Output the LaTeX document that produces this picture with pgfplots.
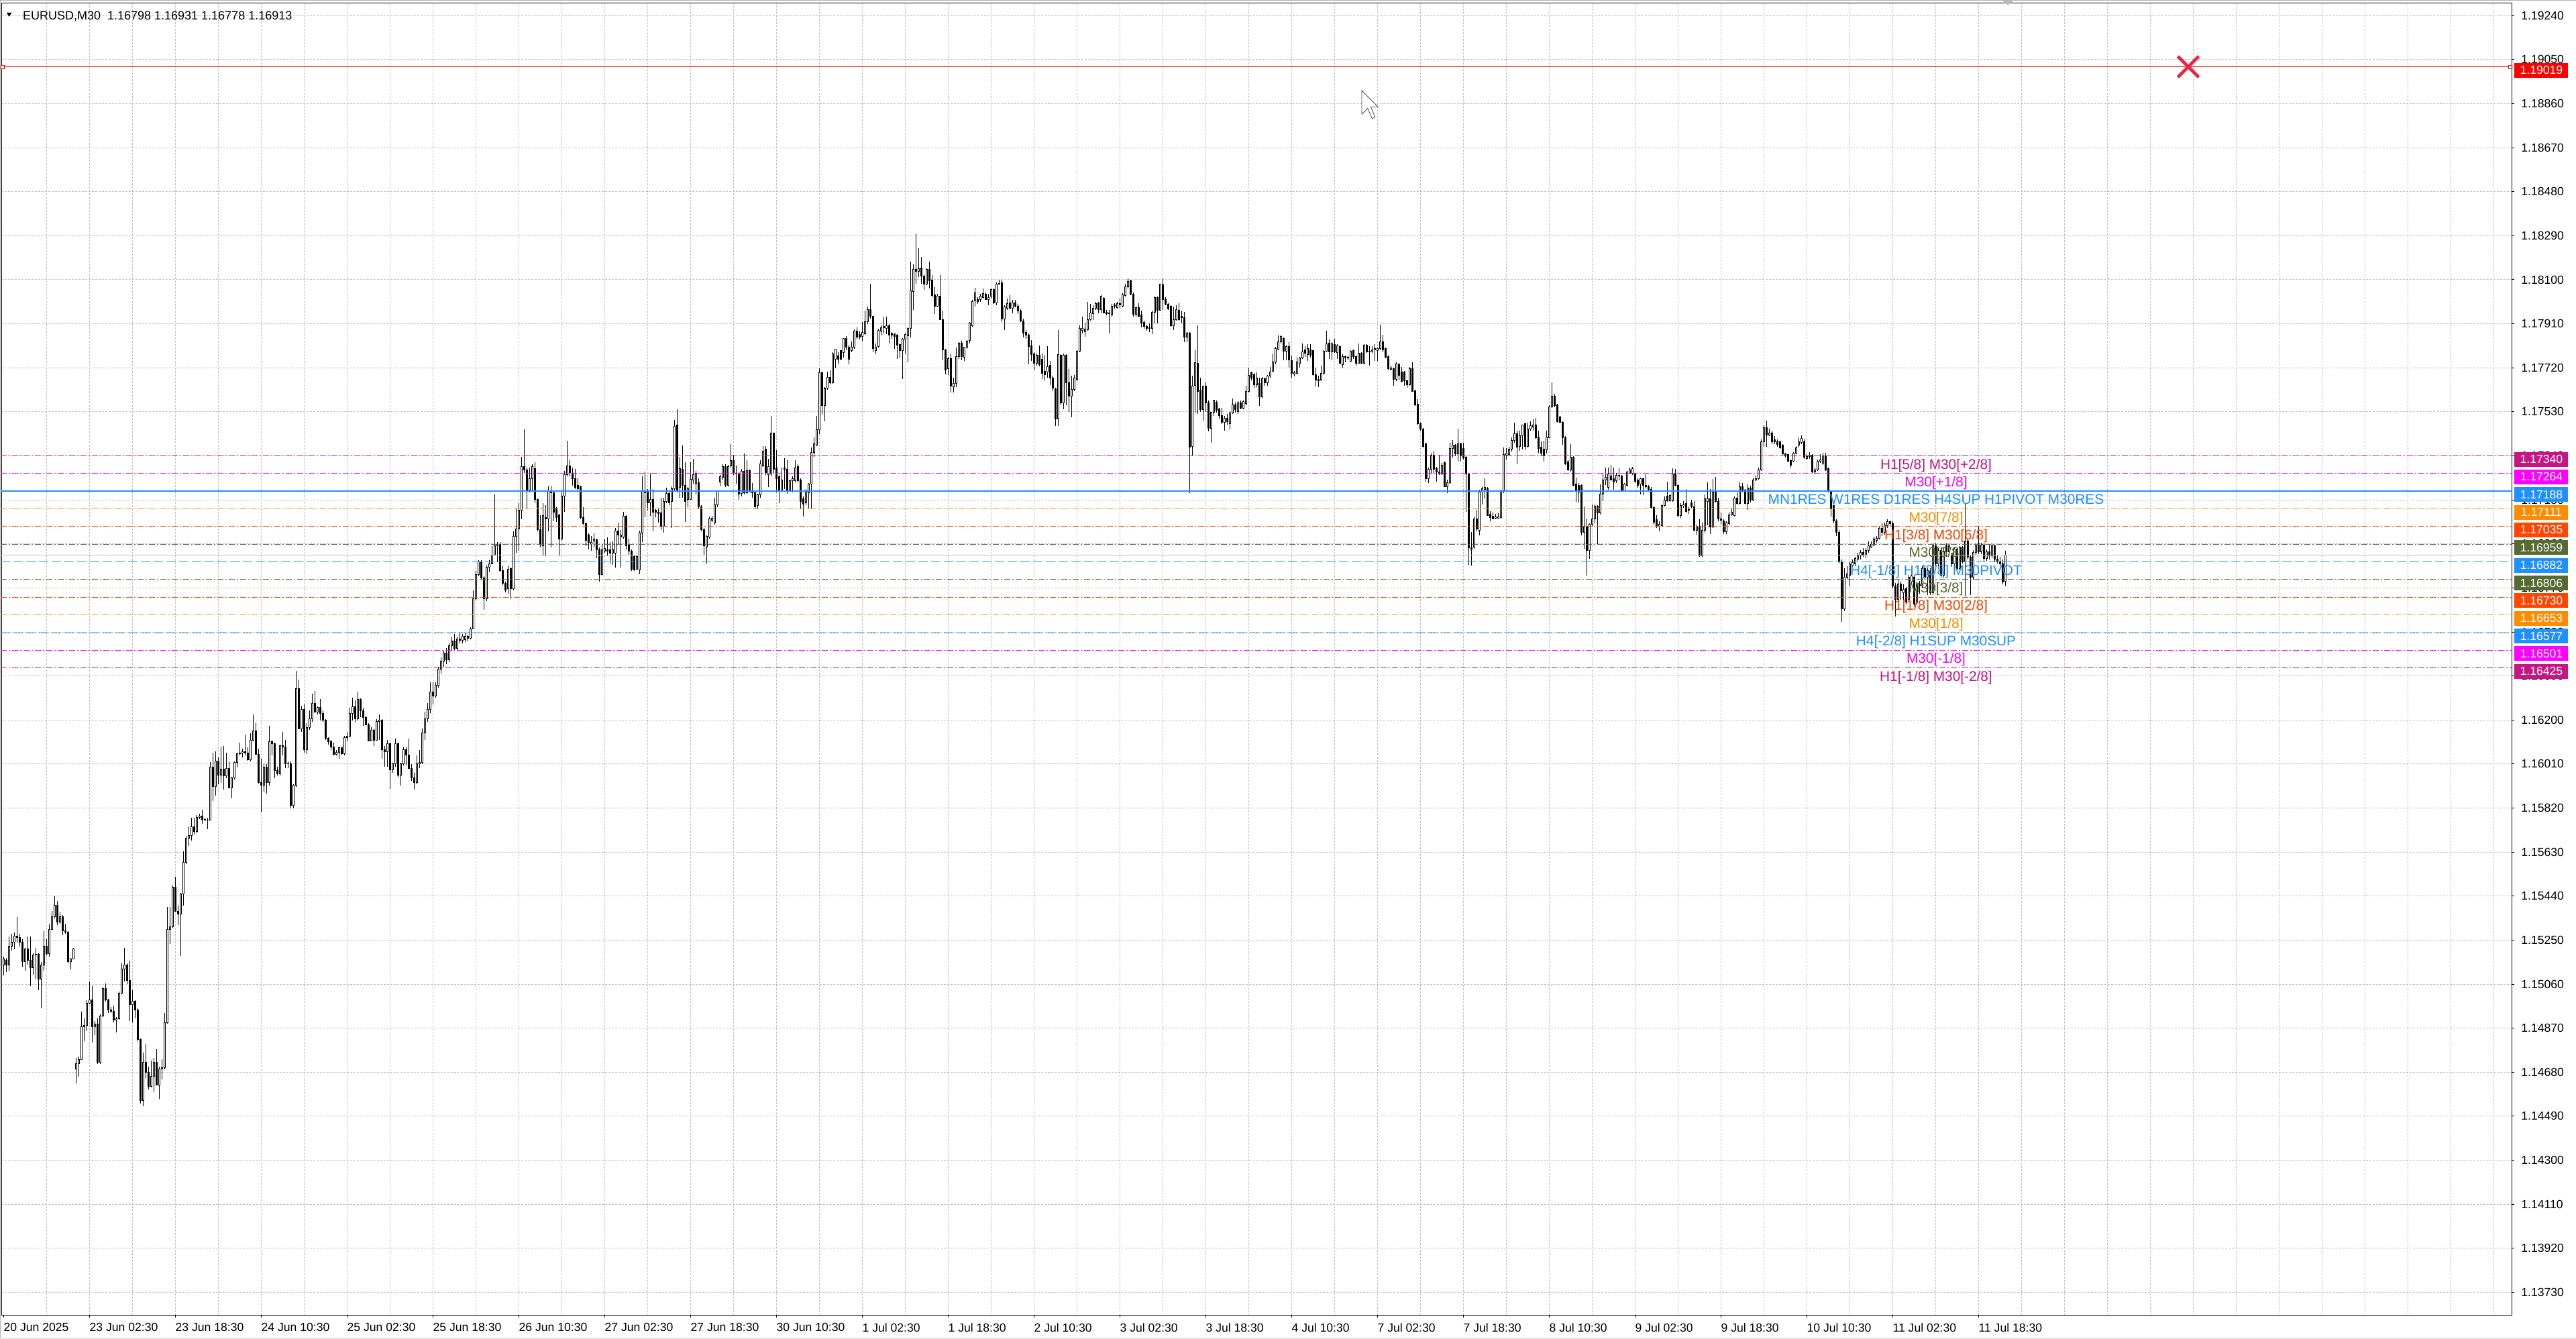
\documentclass[border=0pt]{standalone}
\usepackage{pgfplots}
\pgfplotsset{compat=1.18}
\usepackage{pgfplotstable}
\usepackage{fontspec}
\setmainfont{Liberation Sans}
\definecolor{mvr}{HTML}{C71585}
\definecolor{mag}{HTML}{FF00FF}
\definecolor{dblue}{HTML}{1E90FF}
\definecolor{dorange}{HTML}{FF8C00}
\definecolor{ored}{HTML}{FF4500}
\definecolor{dolive}{HTML}{556B2F}
\definecolor{gridc}{HTML}{C0C0C0}
\definecolor{xred}{RGB}{230,40,70}
\tikzset{
 lbl/.style={anchor=base, inner sep=0pt, font=\fontsize{10.4}{12}\selectfont, yshift=-9.75pt},
 pbox/.style={anchor=west, text=white, inner sep=0pt, minimum width=40pt, minimum height=11pt, font=\fontsize{8.8}{10}\selectfont},
 ddot/.style={line width=0.5pt, dash pattern=on 4.5pt off 1.5pt on 1pt off 1.5pt},
 ldash/.style={line width=0.5pt, dash pattern=on 7pt off 2.5pt}
}
\pgfplotstableread{
o h l c
1.15144 1.15180 1.15097 1.15168
1.15162 1.15174 1.15113 1.15144
1.15144 1.15266 1.15119 1.15223
1.15223 1.15278 1.15205 1.15241
1.15241 1.15284 1.15211 1.15266
1.15266 1.15351 1.15241 1.15260
1.15260 1.15278 1.15223 1.15241
1.15241 1.15253 1.15134 1.15156
1.15156 1.15217 1.15119 1.15211
1.15211 1.15266 1.15144 1.15162
1.15162 1.15266 1.15052 1.15131
1.15131 1.15192 1.15101 1.15186
1.15186 1.15217 1.15083 1.15190
1.15190 1.15192 1.15034 1.15083
1.15083 1.15156 1.14955 1.15144
1.15144 1.15290 1.15119 1.15223
1.15223 1.15253 1.15186 1.15192
1.15192 1.15320 1.15180 1.15296
1.15296 1.15375 1.15296 1.15351
1.15351 1.15439 1.15345 1.15400
1.15400 1.15418 1.15314 1.15327
1.15327 1.15369 1.15320 1.15351
1.15351 1.15357 1.15272 1.15290
1.15290 1.15320 1.15278 1.15284
1.15284 1.15290 1.15150 1.15156
1.15156 1.15174 1.15125 1.15168
1.15168 1.15217 1.15168 1.15211
1.14693 1.14741 1.14632 1.14717
1.14717 1.14747 1.14662 1.14735
1.14735 1.14942 1.14735 1.14876
1.14876 1.14912 1.14814 1.14882
1.14882 1.14991 1.14857 1.14979
1.14979 1.15071 1.14973 1.14991
1.14991 1.15052 1.14808 1.14876
1.14876 1.14900 1.14839 1.14888
1.14888 1.14912 1.14717 1.14723
1.14723 1.14930 1.14717 1.14924
1.14924 1.15046 1.14918 1.15040
1.15040 1.15064 1.14985 1.14991
1.14991 1.14997 1.14936 1.14949
1.14949 1.14961 1.14936 1.14943
1.14943 1.14967 1.14894 1.14906
1.14906 1.14918 1.14851 1.14912
1.14912 1.15028 1.14906 1.15022
1.15022 1.15150 1.15016 1.15125
1.15125 1.15217 1.15071 1.15144
1.15144 1.15150 1.15060 1.15077
1.15077 1.15162 1.14900 1.14973
1.14973 1.15034 1.14894 1.14985
1.14985 1.14991 1.14912 1.14949
1.14949 1.14955 1.14814 1.14821
1.14821 1.14827 1.14546 1.14558
1.14558 1.14766 1.14534 1.14723
1.14723 1.14802 1.14656 1.14680
1.14680 1.14705 1.14607 1.14619
1.14619 1.14729 1.14613 1.14662
1.14662 1.14741 1.14595 1.14723
1.14723 1.14778 1.14625 1.14625
1.14625 1.14705 1.14564 1.14693
1.14693 1.14735 1.14650 1.14699
1.14699 1.14936 1.14693 1.14894
1.14894 1.15394 1.14888 1.15296
1.15296 1.15394 1.15235 1.15308
1.15308 1.15485 1.15302 1.15479
1.15479 1.15522 1.15375 1.15375
1.15375 1.15400 1.15315 1.15363
1.15363 1.15455 1.15181 1.15449
1.15449 1.15632 1.15400 1.15585
1.15585 1.15699 1.15577 1.15690
1.15690 1.15741 1.15656 1.15702
1.15702 1.15778 1.15680 1.15739
1.15739 1.15778 1.15705 1.15719
1.15719 1.15790 1.15711 1.15780
1.15780 1.15796 1.15772 1.15784
1.15784 1.15812 1.15753 1.15772
1.15772 1.15778 1.15766 1.15768
1.15768 1.15778 1.15729 1.15768
1.15768 1.16019 1.15766 1.15997
1.15997 1.16058 1.15851 1.15912
1.15912 1.16064 1.15875 1.16024
1.16024 1.16040 1.15924 1.15961
1.15961 1.16083 1.15930 1.15988
1.15988 1.16089 1.15900 1.15958
1.15958 1.16058 1.15949 1.15991
1.15991 1.16022 1.15906 1.15906
1.15906 1.15955 1.15863 1.15949
1.15949 1.16022 1.15942 1.16016
1.16016 1.16058 1.15995 1.16055
1.16055 1.16101 1.16046 1.16058
1.16058 1.16077 1.16040 1.16064
1.16064 1.16138 1.16046 1.16058
1.16058 1.16083 1.16024 1.16028
1.16028 1.16144 1.16022 1.16113
1.16113 1.16223 1.16107 1.16152
1.16152 1.16186 1.16052 1.16052
1.16052 1.16077 1.15925 1.15930
1.15930 1.16034 1.15802 1.15918
1.15918 1.16010 1.15888 1.15997
1.15997 1.16010 1.15882 1.15930
1.15930 1.16174 1.15918 1.16107
1.16107 1.16113 1.16046 1.16097
1.16097 1.16101 1.15949 1.15983
1.15983 1.15997 1.15961 1.15967
1.15967 1.16095 1.15961 1.16089
1.16089 1.16150 1.16046 1.16083
1.16083 1.16113 1.15991 1.16010
1.16010 1.16022 1.15991 1.16010
1.16010 1.16022 1.15820 1.15833
1.15833 1.15924 1.15820 1.15918
1.15918 1.16412 1.15912 1.16336
1.16336 1.16375 1.16162 1.16162
1.16162 1.16260 1.16150 1.16247
1.16247 1.16266 1.16058 1.16071
1.16071 1.16186 1.16052 1.16168
1.16168 1.16241 1.16156 1.16205
1.16205 1.16314 1.16193 1.16272
1.16272 1.16324 1.16235 1.16235
1.16235 1.16260 1.16225 1.16254
1.16254 1.16290 1.16199 1.16229
1.16229 1.16241 1.16193 1.16199
1.16199 1.16205 1.16113 1.16122
1.16122 1.16125 1.16095 1.16107
1.16107 1.16113 1.16071 1.16083
1.16083 1.16101 1.16046 1.16052
1.16052 1.16071 1.16046 1.16061
1.16061 1.16085 1.16034 1.16080
1.16080 1.16083 1.16050 1.16056
1.16056 1.16131 1.16046 1.16125
1.16125 1.16150 1.16107 1.16129
1.16129 1.16254 1.16125 1.16229
1.16229 1.16296 1.16199 1.16256
1.16256 1.16284 1.16193 1.16205
1.16205 1.16321 1.16199 1.16290
1.16290 1.16293 1.16211 1.16241
1.16241 1.16254 1.16174 1.16211
1.16211 1.16217 1.16180 1.16180
1.16180 1.16186 1.16107 1.16110
1.16110 1.16168 1.16107 1.16156
1.16156 1.16162 1.16089 1.16113
1.16113 1.16205 1.16110 1.16193
1.16193 1.16223 1.16113 1.16199
1.16199 1.16205 1.16034 1.16073
1.16073 1.16089 1.15997 1.16064
1.16064 1.16113 1.15997 1.16097
1.16097 1.16101 1.15902 1.15985
1.15985 1.16016 1.15973 1.16010
1.16010 1.16119 1.15997 1.16097
1.16097 1.16101 1.15955 1.15961
1.15961 1.16016 1.15918 1.16010
1.16010 1.16083 1.16004 1.16071
1.16071 1.16083 1.16004 1.16050
1.16050 1.16119 1.15991 1.15991
1.15991 1.16010 1.15937 1.15951
1.15951 1.15973 1.15900 1.15930
1.15930 1.16046 1.15924 1.16010
1.16010 1.16071 1.15991 1.16016
1.16016 1.16162 1.16010 1.16144
1.16144 1.16235 1.16113 1.16205
1.16205 1.16272 1.16193 1.16247
1.16247 1.16363 1.16229 1.16321
1.16321 1.16363 1.16268 1.16305
1.16305 1.16363 1.16296 1.16351
1.16351 1.16430 1.16340 1.16420
1.16420 1.16470 1.16400 1.16455
1.16455 1.16500 1.16430 1.16490
1.16490 1.16510 1.16440 1.16460
1.16460 1.16530 1.16450 1.16520
1.16520 1.16560 1.16500 1.16540
1.16540 1.16570 1.16500 1.16510
1.16510 1.16560 1.16495 1.16550
1.16550 1.16580 1.16530 1.16545
1.16545 1.16570 1.16530 1.16560
1.16548 1.16576 1.16537 1.16561
1.16561 1.16568 1.16540 1.16553
1.16553 1.16599 1.16548 1.16594
1.16594 1.16760 1.16591 1.16722
1.16722 1.16844 1.16717 1.16829
1.16829 1.16890 1.16821 1.16882
1.16882 1.16890 1.16806 1.16814
1.16814 1.16821 1.16676 1.16722
1.16722 1.16867 1.16714 1.16859
1.16859 1.16890 1.16837 1.16875
1.16875 1.16951 1.16875 1.16913
1.16913 1.17174 1.16906 1.16951
1.16951 1.16967 1.16882 1.16959
1.16959 1.16967 1.16837 1.16844
1.16844 1.16867 1.16783 1.16791
1.16791 1.16798 1.16752 1.16760
1.16768 1.16867 1.16745 1.16852
1.16855 1.16859 1.16722 1.16768
1.16768 1.17013 1.16760 1.16993
1.16993 1.17113 1.16921 1.17024
1.17024 1.17136 1.16929 1.17105
1.17105 1.17335 1.17067 1.17293
1.17293 1.17453 1.17266 1.17278
1.17278 1.17289 1.17113 1.17192
1.17192 1.17289 1.17182 1.17243
1.17243 1.17304 1.17192 1.17293
1.17286 1.17312 1.17136 1.17151
1.17151 1.17156 1.17013 1.17021
1.17021 1.17085 1.16944 1.16959
1.16951 1.17136 1.16906 1.17082
1.17074 1.17128 1.16906 1.17067
1.17067 1.17208 1.17013 1.17189
1.17189 1.17212 1.16944 1.17182
1.17182 1.17189 1.17059 1.17097
1.17113 1.17120 1.17054 1.17074
1.17085 1.17090 1.16906 1.16982
1.16982 1.17182 1.16975 1.17166
1.17166 1.17274 1.17097 1.17258
1.17258 1.17404 1.17251 1.17297
1.17297 1.17320 1.17251 1.17269
1.17266 1.17289 1.17212 1.17243
1.17243 1.17284 1.17197 1.17205
1.17212 1.17243 1.17182 1.17197
1.17208 1.17212 1.17067 1.17074
1.17074 1.17120 1.17044 1.17048
1.17048 1.17051 1.16951 1.16975
1.16997 1.17005 1.16936 1.16967
1.16959 1.16993 1.16929 1.16967
1.16971 1.17005 1.16944 1.16982
1.16978 1.16982 1.16898 1.16936
1.16936 1.16944 1.16798 1.16829
1.16829 1.16959 1.16824 1.16936
1.16929 1.16982 1.16921 1.16941
1.16936 1.16987 1.16906 1.16929
1.16935 1.16967 1.16875 1.16921
1.16921 1.16971 1.16870 1.16936
1.16921 1.17028 1.16859 1.17017
1.17017 1.17051 1.16959 1.16997
1.16990 1.17021 1.16859 1.16997
1.16990 1.17097 1.16982 1.17079
1.17079 1.17085 1.16936 1.16951
1.16959 1.16982 1.16913 1.16929
1.16929 1.16936 1.16844 1.16852
1.16906 1.16913 1.16844 1.16849
1.16852 1.16913 1.16849 1.16906
1.16849 1.17017 1.16829 1.17008
1.17008 1.17251 1.16967 1.17189
1.17182 1.17272 1.17074 1.17189
1.17189 1.17197 1.17105 1.17136
1.17136 1.17262 1.17082 1.17151
1.17151 1.17197 1.17013 1.17097
1.17105 1.17113 1.17074 1.17097
1.17097 1.17113 1.17051 1.17090
1.17094 1.17159 1.17021 1.17036
1.17036 1.17159 1.17008 1.17143
1.17143 1.17203 1.17136 1.17177
1.17177 1.17189 1.17128 1.17136
1.17143 1.17208 1.17029 1.17197
1.17197 1.17496 1.17189 1.17468
1.17473 1.17542 1.17182 1.17189
1.17205 1.17335 1.17159 1.17284
1.17281 1.17386 1.17159 1.17212
1.17212 1.17312 1.17054 1.17143
1.17151 1.17205 1.17120 1.17197
1.17151 1.17312 1.17151 1.17238
1.17235 1.17327 1.17220 1.17258
1.17220 1.17274 1.17174 1.17266
1.17223 1.17243 1.17113 1.17120
1.17120 1.17128 1.17013 1.17021
1.17021 1.17028 1.16913 1.16951
1.16947 1.16997 1.16875 1.16993
1.16990 1.17079 1.16982 1.17067
1.17063 1.17082 1.17054 1.17070
1.17051 1.17159 1.17044 1.17128
1.17128 1.17189 1.17120 1.17186
1.17227 1.17258 1.17208 1.17251
1.17247 1.17304 1.17238 1.17293
1.17293 1.17304 1.17205 1.17212
1.17212 1.17300 1.17208 1.17293
1.17297 1.17392 1.17289 1.17320
1.17320 1.17343 1.17258 1.17266
1.17266 1.17297 1.17220 1.17261
1.17263 1.17269 1.17151 1.17174
1.17177 1.17284 1.17166 1.17274
1.17274 1.17349 1.17174 1.17182
1.17182 1.17320 1.17174 1.17275
1.17275 1.17281 1.17182 1.17189
1.17189 1.17223 1.17159 1.17182
1.17182 1.17189 1.17113 1.17120
1.17125 1.17177 1.17113 1.17171
1.17171 1.17320 1.17159 1.17304
1.17297 1.17381 1.17293 1.17361
1.17370 1.17381 1.17258 1.17266
1.17258 1.17327 1.17205 1.17293
1.17263 1.17511 1.17251 1.17438
1.17438 1.17438 1.17266 1.17281
1.17289 1.17366 1.17182 1.17243
1.17251 1.17258 1.17136 1.17189
1.17189 1.17289 1.17182 1.17235
1.17289 1.17330 1.17197 1.17281
1.17281 1.17320 1.17177 1.17192
1.17192 1.17238 1.17186 1.17232
1.17232 1.17251 1.17182 1.17243
1.17232 1.17320 1.17227 1.17289
1.17293 1.17304 1.17227 1.17232
1.17235 1.17243 1.17113 1.17143
1.17156 1.17166 1.17079 1.17131
1.17136 1.17197 1.17128 1.17186
1.17182 1.17223 1.17113 1.17217
1.17217 1.17376 1.17113 1.17355
1.17355 1.17419 1.17335 1.17392
1.17386 1.17511 1.17381 1.17453
1.17453 1.17718 1.17435 1.17698
1.17698 1.17703 1.17519 1.17557
1.17557 1.17637 1.17488 1.17631
1.17631 1.17703 1.17626 1.17680
1.17680 1.17710 1.17649 1.17657
1.17657 1.17787 1.17652 1.17780
1.17757 1.17803 1.17718 1.17800
1.17772 1.17787 1.17734 1.17757
1.17795 1.17795 1.17754 1.17757
1.17787 1.17849 1.17764 1.17846
1.17846 1.17856 1.17795 1.17810
1.17810 1.17818 1.17734 1.17757
1.17795 1.17833 1.17787 1.17810
1.17810 1.17887 1.17803 1.17879
1.17879 1.17895 1.17846 1.17852
1.17864 1.17876 1.17841 1.17852
1.17856 1.17918 1.17836 1.17872
1.17867 1.17968 1.17864 1.17918
1.17918 1.17984 1.17910 1.17971
1.17971 1.18082 1.17933 1.17941
1.17941 1.17941 1.17787 1.17803
1.17795 1.17826 1.17780 1.17810
1.17811 1.17889 1.17807 1.17882
1.17879 1.17906 1.17860 1.17893
1.17893 1.17937 1.17869 1.17898
1.17890 1.17942 1.17865 1.17903
1.17903 1.17908 1.17826 1.17860
1.17867 1.17874 1.17845 1.17862
1.17867 1.17869 1.17802 1.17855
1.17860 1.17865 1.17758 1.17819
1.17821 1.17826 1.17763 1.17794
1.17794 1.17848 1.17671 1.17845
1.17845 1.17869 1.17782 1.17865
1.17858 1.17893 1.17744 1.17889
1.17889 1.18178 1.17850 1.18051
1.18048 1.18168 1.17971 1.18146
1.18146 1.18299 1.18082 1.18135
1.18135 1.18236 1.18111 1.18149
1.18151 1.18198 1.18082 1.18115
1.18115 1.18120 1.18057 1.18082
1.18082 1.18149 1.18077 1.18144
1.18144 1.18178 1.18062 1.18096
1.18099 1.18120 1.18024 1.18033
1.18035 1.18067 1.17951 1.17985
1.17985 1.18038 1.17980 1.18029
1.18029 1.18120 1.17927 1.17929
1.17929 1.17966 1.17753 1.17797
1.17797 1.17802 1.17691 1.17710
1.17717 1.17768 1.17688 1.17761
1.17761 1.17778 1.17613 1.17642
1.17638 1.17676 1.17613 1.17652
1.17652 1.17807 1.17638 1.17768
1.17768 1.17831 1.17758 1.17826
1.17826 1.17836 1.17753 1.17768
1.17765 1.17811 1.17749 1.17810
1.17810 1.17840 1.17802 1.17836
1.17838 1.17918 1.17826 1.17913
1.17903 1.18014 1.17898 1.18006
1.18009 1.18064 1.17985 1.18043
1.18016 1.18024 1.17997 1.18005
1.18014 1.18038 1.18005 1.18029
1.18024 1.18062 1.18019 1.18041
1.18038 1.18045 1.18012 1.18016
1.18016 1.18038 1.17990 1.18024
1.18029 1.18062 1.18019 1.18058
1.18058 1.18062 1.17995 1.18000
1.18000 1.18087 1.17990 1.18080
1.18080 1.18099 1.18077 1.18084
1.18087 1.18099 1.17918 1.17932
1.17932 1.17990 1.17884 1.17983
1.17977 1.18019 1.17971 1.17997
1.17999 1.18033 1.17975 1.17977
1.17977 1.18014 1.17956 1.17999
1.17999 1.18014 1.17980 1.17985
1.17987 1.17995 1.17951 1.17966
1.17966 1.17973 1.17918 1.17922
1.17922 1.17932 1.17850 1.17869
1.17874 1.17884 1.17845 1.17862
1.17862 1.17869 1.17734 1.17811
1.17816 1.17840 1.17749 1.17778
1.17780 1.17787 1.17710 1.17739
1.17739 1.17782 1.17729 1.17775
1.17775 1.17816 1.17726 1.17734
1.17758 1.17782 1.17671 1.17696
1.17705 1.17773 1.17667 1.17691
1.17703 1.17813 1.17676 1.17726
1.17732 1.17749 1.17645 1.17676
1.17676 1.17686 1.17618 1.17633
1.17630 1.17633 1.17469 1.17498
1.17498 1.17884 1.17469 1.17778
1.17775 1.17778 1.17560 1.17568
1.17568 1.17782 1.17541 1.17773
1.17773 1.17780 1.17560 1.17657
1.17657 1.17715 1.17531 1.17599
1.17599 1.17686 1.17507 1.17628
1.17628 1.17690 1.17620 1.17676
1.17671 1.17797 1.17662 1.17792
1.17792 1.17903 1.17787 1.17890
1.17880 1.17942 1.17869 1.17890
1.17877 1.17916 1.17855 1.17887
1.17884 1.18005 1.17879 1.17929
1.17927 1.17995 1.17922 1.17956
1.17954 1.17990 1.17927 1.17977
1.17977 1.18005 1.17971 1.17997
1.17999 1.18005 1.17956 1.17971
1.17971 1.18033 1.17956 1.18029
1.18019 1.18024 1.17956 1.17958
1.17961 1.17971 1.17947 1.17954
1.17956 1.17971 1.17869 1.17954
1.17947 1.17995 1.17942 1.17987
1.17987 1.18000 1.17975 1.17990
1.17980 1.18005 1.17975 1.17997
1.17997 1.18019 1.17975 1.17990
1.17985 1.18041 1.17980 1.18035
1.18033 1.18082 1.18029 1.18070
1.18070 1.18106 1.18062 1.18093
1.18096 1.18101 1.18033 1.18038
1.18038 1.18045 1.17942 1.17951
1.17951 1.17985 1.17942 1.17980
1.17980 1.17999 1.17939 1.17942
1.17947 1.17966 1.17893 1.17913
1.17915 1.17922 1.17889 1.17898
1.17900 1.17906 1.17879 1.17890
1.17893 1.17913 1.17874 1.17889
1.17891 1.17966 1.17865 1.17961
1.17961 1.18029 1.17913 1.18024
1.18024 1.18029 1.17913 1.17968
1.17968 1.18082 1.17966 1.18080
1.18077 1.18103 1.17971 1.18014
1.18016 1.18024 1.17990 1.17995
1.17993 1.18000 1.17971 1.17975
1.17985 1.17990 1.17898 1.17903
1.17903 1.17985 1.17884 1.17927
1.17927 1.17990 1.17922 1.17971
1.17968 1.18000 1.17922 1.17927
1.17942 1.17968 1.17913 1.17935
1.17937 1.17961 1.17831 1.17852
1.17852 1.17874 1.17831 1.17869
1.17871 1.17874 1.17179 1.17379
1.17382 1.17686 1.17338 1.17640
1.17643 1.17797 1.17527 1.17742
1.17739 1.17903 1.17520 1.17618
1.17623 1.17676 1.17531 1.17541
1.17541 1.17642 1.17493 1.17640
1.17642 1.17657 1.17531 1.17570
1.17570 1.17580 1.17445 1.17459
1.17459 1.17531 1.17396 1.17527
1.17527 1.17582 1.17512 1.17580
1.17572 1.17580 1.17527 1.17536
1.17543 1.17546 1.17502 1.17514
1.17514 1.17546 1.17478 1.17485
1.17485 1.17512 1.17449 1.17502
1.17502 1.17522 1.17474 1.17488
1.17478 1.17531 1.17454 1.17524
1.17524 1.17589 1.17520 1.17560
1.17560 1.17570 1.17527 1.17541
1.17530 1.17575 1.17522 1.17570
1.17570 1.17580 1.17541 1.17546
1.17546 1.17580 1.17541 1.17575
1.17565 1.17642 1.17560 1.17618
1.17618 1.17720 1.17613 1.17686
1.17698 1.17703 1.17667 1.17676
1.17691 1.17698 1.17633 1.17647
1.17647 1.17700 1.17638 1.17676
1.17652 1.17676 1.17555 1.17594
1.17594 1.17681 1.17589 1.17674
1.17674 1.17676 1.17642 1.17655
1.17655 1.17688 1.17642 1.17684
1.17684 1.17725 1.17676 1.17703
1.17705 1.17782 1.17703 1.17744
1.17744 1.17811 1.17734 1.17802
1.17800 1.17860 1.17797 1.17833
1.17831 1.17860 1.17826 1.17855
1.17846 1.17850 1.17754 1.17793
1.17793 1.17817 1.17754 1.17812
1.17812 1.17831 1.17720 1.17754
1.17752 1.17773 1.17677 1.17696
1.17692 1.17705 1.17682 1.17700
1.17696 1.17763 1.17691 1.17744
1.17740 1.17768 1.17720 1.17762
1.17762 1.17826 1.17759 1.17788
1.17797 1.17812 1.17768 1.17783
1.17778 1.17821 1.17749 1.17802
1.17797 1.17823 1.17764 1.17773
1.17794 1.17797 1.17686 1.17691
1.17691 1.17720 1.17640 1.17667
1.17669 1.17686 1.17638 1.17665
1.17667 1.17730 1.17662 1.17696
1.17696 1.17797 1.17691 1.17793
1.17793 1.17879 1.17788 1.17823
1.17826 1.17841 1.17759 1.17788
1.17788 1.17831 1.17754 1.17823
1.17821 1.17846 1.17783 1.17788
1.17785 1.17821 1.17759 1.17814
1.17812 1.17817 1.17735 1.17739
1.17735 1.17778 1.17720 1.17768
1.17768 1.17773 1.17744 1.17762
1.17762 1.17773 1.17754 1.17765
1.17749 1.17797 1.17744 1.17793
1.17795 1.17800 1.17759 1.17768
1.17768 1.17773 1.17730 1.17740
1.17740 1.17826 1.17737 1.17783
1.17783 1.17788 1.17735 1.17740
1.17740 1.17822 1.17735 1.17817
1.17817 1.17822 1.17783 1.17788
1.17788 1.17812 1.17730 1.17791
1.17791 1.17812 1.17783 1.17797
1.17797 1.17822 1.17749 1.17802
1.17794 1.17807 1.17749 1.17804
1.17802 1.17906 1.17797 1.17831
1.17831 1.17862 1.17788 1.17797
1.17802 1.17807 1.17762 1.17766
1.17768 1.17773 1.17710 1.17715
1.17713 1.17730 1.17710 1.17720
1.17715 1.17720 1.17643 1.17669
1.17669 1.17744 1.17662 1.17737
1.17735 1.17740 1.17667 1.17686
1.17701 1.17723 1.17657 1.17662
1.17701 1.17706 1.17643 1.17665
1.17665 1.17669 1.17633 1.17648
1.17648 1.17723 1.17643 1.17717
1.17717 1.17744 1.17617 1.17619
1.17621 1.17624 1.17556 1.17561
1.17563 1.17585 1.17474 1.17479
1.17479 1.17484 1.17450 1.17455
1.17457 1.17460 1.17377 1.17382
1.17392 1.17397 1.17228 1.17242
1.17242 1.17289 1.17223 1.17283
1.17283 1.17349 1.17262 1.17344
1.17344 1.17363 1.17262 1.17281
1.17286 1.17291 1.17228 1.17271
1.17271 1.17344 1.17257 1.17262
1.17262 1.17310 1.17257 1.17300
1.17312 1.17315 1.17204 1.17208
1.17208 1.17237 1.17180 1.17225
1.17223 1.17397 1.17218 1.17373
1.17373 1.17408 1.17334 1.17387
1.17387 1.17392 1.17339 1.17350
1.17350 1.17457 1.17315 1.17392
1.17392 1.17397 1.17315 1.17339
1.17373 1.17397 1.17324 1.17331
1.17334 1.17339 1.17098 1.17262
1.17262 1.17266 1.16870 1.16943
1.16943 1.17010 1.16866 1.16938
1.16945 1.17078 1.16940 1.17068
1.17068 1.17108 1.17015 1.17025
1.17020 1.17194 1.16996 1.17184
1.17189 1.17209 1.17131 1.17199
1.17196 1.17242 1.17155 1.17203
1.17199 1.17204 1.17080 1.17083
1.17088 1.17100 1.17059 1.17073
1.17080 1.17095 1.17067 1.17068
1.17070 1.17090 1.17066 1.17076
1.17070 1.17093 1.17068 1.17078
1.17073 1.17194 1.17068 1.17186
1.17186 1.17377 1.17180 1.17347
1.17344 1.17373 1.17324 1.17353
1.17347 1.17379 1.17339 1.17370
1.17368 1.17421 1.17358 1.17406
1.17406 1.17482 1.17397 1.17437
1.17437 1.17450 1.17305 1.17377
1.17382 1.17450 1.17363 1.17426
1.17426 1.17476 1.17368 1.17474
1.17479 1.17484 1.17366 1.17382
1.17382 1.17484 1.17377 1.17457
1.17455 1.17488 1.17450 1.17469
1.17464 1.17498 1.17450 1.17474
1.17474 1.17503 1.17414 1.17418
1.17421 1.17450 1.17353 1.17373
1.17377 1.17402 1.17339 1.17353
1.17368 1.17406 1.17315 1.17344
1.17366 1.17450 1.17350 1.17421
1.17418 1.17559 1.17416 1.17551
1.17551 1.17657 1.17546 1.17599
1.17599 1.17607 1.17551 1.17556
1.17559 1.17563 1.17484 1.17488
1.17508 1.17513 1.17479 1.17484
1.17486 1.17488 1.17387 1.17418
1.17418 1.17426 1.17300 1.17305
1.17315 1.17320 1.17276 1.17279
1.17279 1.17392 1.17273 1.17334
1.17334 1.17339 1.17208 1.17213
1.17218 1.17247 1.17141 1.17189
1.17213 1.17223 1.17138 1.17184
1.17213 1.17218 1.16996 1.17011
1.17011 1.17122 1.16938 1.17035
1.17035 1.17069 1.16822 1.16933
1.16932 1.17049 1.16895 1.17044
1.17044 1.17131 1.17035 1.17068
1.17068 1.17131 1.17049 1.17122
1.17122 1.17127 1.16960 1.17093
1.17093 1.17218 1.17088 1.17175
1.17175 1.17266 1.17146 1.17237
1.17237 1.17290 1.17213 1.17247
1.17204 1.17290 1.17194 1.17262
1.17254 1.17300 1.17233 1.17237
1.17242 1.17288 1.17194 1.17228
1.17233 1.17266 1.17223 1.17257
1.17257 1.17286 1.17233 1.17252
1.17252 1.17257 1.17184 1.17189
1.17189 1.17223 1.17184 1.17218
1.17213 1.17276 1.17208 1.17271
1.17266 1.17290 1.17262 1.17279
1.17262 1.17291 1.17257 1.17286
1.17264 1.17266 1.17223 1.17231
1.17237 1.17242 1.17199 1.17213
1.17218 1.17247 1.17175 1.17242
1.17242 1.17247 1.17170 1.17213
1.17213 1.17260 1.17199 1.17208
1.17208 1.17213 1.17189 1.17196
1.17196 1.17204 1.17110 1.17117
1.17117 1.17122 1.17044 1.17054
1.17064 1.17083 1.17030 1.17035
1.17035 1.17059 1.17015 1.17044
1.17040 1.17131 1.17035 1.17127
1.17127 1.17165 1.17122 1.17148
1.17165 1.17228 1.17141 1.17146
1.17146 1.17175 1.17141 1.17170
1.17146 1.17286 1.17141 1.17262
1.17262 1.17285 1.17207 1.17212
1.17212 1.17217 1.17076 1.17082
1.17082 1.17135 1.17072 1.17125
1.17125 1.17145 1.17115 1.17130
1.17135 1.17198 1.17096 1.17101
1.17110 1.17120 1.17090 1.17106
1.17137 1.17150 1.17115 1.17120
1.17120 1.17145 1.17014 1.17019
1.17019 1.17043 1.17000 1.17033
1.17033 1.17067 1.16903 1.16908
1.16908 1.17053 1.16903 1.17019
1.17019 1.17173 1.17009 1.17154
1.17144 1.17226 1.17040 1.17154
1.17154 1.17197 1.17004 1.17033
1.17033 1.17241 1.17029 1.17183
1.17183 1.17250 1.17140 1.17144
1.17144 1.17159 1.17058 1.17067
1.17067 1.17096 1.17043 1.17062
1.17058 1.17067 1.17004 1.17014
1.17014 1.17058 1.17004 1.17050
1.17048 1.17096 1.17040 1.17086
1.17086 1.17115 1.17082 1.17096
1.17082 1.17164 1.17077 1.17159
1.17159 1.17183 1.17130 1.17135
1.17135 1.17226 1.17130 1.17207
1.17207 1.17222 1.17183 1.17193
1.17193 1.17198 1.17130 1.17135
1.17135 1.17217 1.17106 1.17202
1.17202 1.17212 1.17140 1.17149
1.17149 1.17246 1.17144 1.17236
1.17236 1.17255 1.17231 1.17241
1.17241 1.17290 1.17236 1.17280
1.17280 1.17410 1.17275 1.17400
1.17400 1.17473 1.17380 1.17461
1.17461 1.17492 1.17380 1.17429
1.17429 1.17457 1.17425 1.17439
1.17439 1.17448 1.17390 1.17400
1.17410 1.17425 1.17390 1.17400
1.17402 1.17410 1.17380 1.17390
1.17400 1.17405 1.17370 1.17376
1.17386 1.17390 1.17343 1.17349
1.17349 1.17352 1.17333 1.17339
1.17345 1.17347 1.17313 1.17318
1.17320 1.17325 1.17290 1.17299
1.17318 1.17357 1.17313 1.17352
1.17352 1.17381 1.17347 1.17376
1.17386 1.17420 1.17376 1.17400
1.17397 1.17429 1.17390 1.17415
1.17400 1.17410 1.17328 1.17333
1.17328 1.17347 1.17320 1.17337
1.17337 1.17357 1.17328 1.17342
1.17342 1.17347 1.17265 1.17270
1.17270 1.17290 1.17260 1.17280
1.17280 1.17325 1.17275 1.17316
1.17316 1.17347 1.17310 1.17323
1.17308 1.17352 1.17300 1.17339
1.17339 1.17352 1.17275 1.17280
1.17285 1.17290 1.17183 1.17188
1.17183 1.17188 1.17077 1.17111
1.17125 1.17130 1.17048 1.17058
1.17058 1.17067 1.16995 1.17009
1.17009 1.17019 1.16874 1.16884
1.16884 1.16893 1.16623 1.16681
1.16681 1.16855 1.16671 1.16816
1.16816 1.16864 1.16806 1.16830
1.16826 1.16884 1.16780 1.16874
1.16869 1.16893 1.16860 1.16879
1.16874 1.16903 1.16864 1.16898
1.16893 1.16922 1.16888 1.16908
1.16908 1.16932 1.16893 1.16922
1.16922 1.16942 1.16903 1.16913
1.16913 1.16942 1.16898 1.16932
1.16932 1.16971 1.16922 1.16951
1.16946 1.16971 1.16942 1.16959
1.16956 1.16990 1.16951 1.16980
1.16976 1.16995 1.16966 1.16985
1.16985 1.17038 1.16980 1.17028
1.17028 1.17048 1.16995 1.17009
1.17009 1.17052 1.17000 1.17043
1.17038 1.17067 1.17028 1.17057
1.17057 1.17062 1.17038 1.17048
1.17048 1.17057 1.16768 1.16778
1.16778 1.16790 1.16647 1.16720
1.16720 1.16806 1.16710 1.16787
1.16787 1.16797 1.16720 1.16758
1.16749 1.16787 1.16720 1.16763
1.16768 1.16775 1.16700 1.16710
1.16720 1.16826 1.16710 1.16816
1.16797 1.16840 1.16787 1.16821
1.16816 1.16826 1.16690 1.16700
1.16710 1.16797 1.16700 1.16787
1.16787 1.16800 1.16745 1.16778
1.16778 1.16864 1.16768 1.16855
1.16855 1.16864 1.16806 1.16816
1.16816 1.16855 1.16739 1.16845
1.16845 1.16855 1.16739 1.16749
1.16749 1.16961 1.16739 1.16951
1.16951 1.16961 1.16864 1.16874
1.16874 1.16942 1.16864 1.16932
1.16932 1.16942 1.16816 1.16826
1.16826 1.16942 1.16816 1.16927
1.16951 1.16961 1.16903 1.16927
1.16927 1.16961 1.16913 1.16951
1.16913 1.16922 1.16860 1.16874
1.16874 1.16942 1.16864 1.16937
1.16937 1.16942 1.16845 1.16855
1.16855 1.16951 1.16845 1.16943
1.16943 1.16951 1.16874 1.16884
1.16884 1.17135 1.16734 1.16971
1.16971 1.16980 1.16893 1.16903
1.16903 1.16913 1.16739 1.16816
1.16816 1.16932 1.16806 1.16922
1.16922 1.16961 1.16913 1.16951
1.16961 1.17038 1.16917 1.16927
1.16927 1.16966 1.16917 1.16956
1.16956 1.16961 1.16888 1.16898
1.16898 1.16937 1.16888 1.16927
1.16927 1.16956 1.16893 1.16908
1.16908 1.16961 1.16898 1.16951
1.16951 1.16956 1.16884 1.16893
1.16893 1.16913 1.16874 1.16884
1.16884 1.16903 1.16864 1.16874
1.16874 1.16893 1.16787 1.16797
1.16798 1.16931 1.16778 1.16913
}\candles
\begin{document}
\begin{tikzpicture}
\fill[white] (0pt,0pt) rectangle (1920pt,998pt);
\path[use as bounding box] (0pt,0pt) rectangle (1920pt,998pt);
\draw[gray!60, line width=0.5pt] (0.25pt,0pt) -- (0.25pt,997.75pt) -- (1920pt,997.75pt);
\draw[gray!20, line width=1pt] (0pt,0.5pt) -- (1920pt,0.5pt);
\begin{axis}[
 at={(1pt,17.5pt)}, anchor=south west,
 scale only axis, width=1871.5pt, height=978.2pt,
 xmin=-0.8, xmax=934.95, ymin=1.13630, ymax=1.19294,
 axis line style={black, line width=0.5pt},
 tick align=outside, major tick length=1.5pt, minor tick length=0pt,
 tick style={black, line width=0.5pt},
 xtick pos=bottom, ytick pos=right, yticklabel pos=right,
 xtick={0,32,...,736},
 xticklabels={20 Jun 2025,23 Jun 02:30,23 Jun 18:30,24 Jun 10:30,25 Jun 02:30,25 Jun 18:30,26 Jun 10:30,27 Jun 02:30,27 Jun 18:30,30 Jun 10:30,1 Jul 02:30,1 Jul 18:30,2 Jul 10:30,3 Jul 02:30,3 Jul 18:30,4 Jul 10:30,7 Jul 02:30,7 Jul 18:30,8 Jul 10:30,9 Jul 02:30,9 Jul 18:30,10 Jul 10:30,11 Jul 02:30,11 Jul 18:30},
 minor xtick={16,32,...,928},
 xminorgrids=true, xmajorgrids=false, ymajorgrids=true,
 major grid style={gridc, line width=0.5pt, dash pattern=on 1.5pt off 1pt},
 minor grid style={gridc, line width=0.5pt, dash pattern=on 1.5pt off 1pt},
 ytick={1.13730,1.13920,1.14110,1.14300,1.14490,1.14680,1.14870,1.15060,1.15250,1.15440,1.15630,1.15820,1.16010,1.16200,1.16390,1.16580,1.16770,1.16960,1.17150,1.17340,1.17530,1.17720,1.17910,1.18100,1.18290,1.18480,1.18670,1.18860,1.19050,1.19240},
 yticklabels={1.13730,1.13920,1.14110,1.14300,1.14490,1.14680,1.14870,1.15060,1.15250,1.15440,1.15630,1.15820,1.16010,1.16200,1.16390,1.16580,1.16770,1.16960,1.17150,1.17340,1.17530,1.17720,1.17910,1.18100,1.18290,1.18480,1.18670,1.18860,1.19050,1.19240},
 tick label style={font=\fontsize{8.8}{10}\selectfont, inner sep=0pt},
 xticklabel style={anchor=north west, yshift=-4.15pt},
 yticklabel style={anchor=west, xshift=5pt},
]
% wicks
\addplot[draw=none, mark=none, forget plot,
  error bars/.cd, y dir=plus, y explicit, error mark=none,
  error bar style={draw=black, solid, line width=0.5pt}]
  table[x expr=\coordindex, y=l, y error expr=\thisrow{h}-\thisrow{l}] {\candles};
% bear bodies
\addplot[draw=none, mark=none, forget plot,
  restrict expr to domain={\thisrow{o}-\thisrow{c}}{0:1},
  error bars/.cd, y dir=plus, y explicit, error mark=none,
  error bar style={draw=black, solid, line width=1.5pt}]
  table[x expr=\coordindex, y expr=\thisrow{c}-0.0000145, y error expr=\thisrow{o}-\thisrow{c}+0.000029] {\candles};
% bull bodies (outline)
\addplot[draw=none, mark=none, forget plot,
  restrict expr to domain={\thisrow{c}-\thisrow{o}}{0.000001:1},
  error bars/.cd, y dir=plus, y explicit, error mark=none,
  error bar style={draw=black, solid, line width=1.5pt}]
  table[x expr=\coordindex, y expr=\thisrow{o}-0.0000145, y error expr=\thisrow{c}-\thisrow{o}+0.000029] {\candles};
% bull bodies (white inside)
\addplot[draw=none, mark=none, forget plot,
  restrict expr to domain={\thisrow{c}-\thisrow{o}}{0.00004:1},
  error bars/.cd, y dir=plus, y explicit, error mark=none,
  error bar style={draw=white, solid, line width=0.5pt}]
  table[x expr=\coordindex, y expr=\thisrow{o}+0.0000145, y error expr=\thisrow{c}-\thisrow{o}-0.000029] {\candles};
% levels
\addplot[mvr, ddot] coordinates {(-1,1.17340) (936,1.17340)};
\addplot[mag, ddot] coordinates {(-1,1.17264) (936,1.17264)};
\addplot[dblue, line width=0.9pt] coordinates {(-1,1.17188) (936,1.17188)};
\addplot[dorange, ddot] coordinates {(-1,1.17111) (936,1.17111)};
\addplot[ored, ddot] coordinates {(-1,1.17035) (936,1.17035)};
\addplot[dolive, ddot] coordinates {(-1,1.16959) (936,1.16959)};
\addplot[gridc, line width=0.5pt] coordinates {(-1,1.16913) (936,1.16913)};
\addplot[dblue, ldash] coordinates {(-1,1.16882) (936,1.16882)};
\addplot[dolive, ddot] coordinates {(-1,1.16806) (936,1.16806)};
\addplot[ored, ddot] coordinates {(-1,1.16730) (936,1.16730)};
\addplot[dorange, ddot] coordinates {(-1,1.16653) (936,1.16653)};
\addplot[dblue, ldash] coordinates {(-1,1.16577) (936,1.16577)};
\addplot[mag, ddot] coordinates {(-1,1.16501) (936,1.16501)};
\addplot[mvr, ddot] coordinates {(-1,1.16425) (936,1.16425)};
\addplot[red, line width=0.5pt] coordinates {(-1,1.19019) (936,1.19019)};
\addplot[red, only marks, mark=square*, mark size=1.25pt, mark options={fill=white, line width=0.5pt}] coordinates {(934.2,1.19019) (-0.2,1.19019)};
\addplot[xred, only marks, mark=x, mark size=11pt, mark options={line width=2.4pt}] coordinates {(814.2,1.19019)};
% labels
\node[lbl, text=mvr] at (axis cs:720.2,1.17340) {H1[5/8] M30[+2/8]};
\node[lbl, text=mag] at (axis cs:720.2,1.17264) {M30[+1/8]};
\node[lbl, text=dblue] at (axis cs:720.2,1.17188) {MN1RES W1RES D1RES H4SUP H1PIVOT M30RES};
\node[lbl, text=dorange] at (axis cs:720.2,1.17111) {M30[7/8]};
\node[lbl, text=ored] at (axis cs:720.2,1.17035) {H1[3/8] M30[6/8]};
\node[lbl, text=dolive] at (axis cs:720.2,1.16959) {M30[5/8]};
\node[lbl, text=dblue] at (axis cs:720.2,1.16882) {H4[-1/8] H1[2/8] M30PIVOT};
\node[lbl, text=dolive] at (axis cs:720.2,1.16806) {M30[3/8]};
\node[lbl, text=ored] at (axis cs:720.2,1.16730) {H1[1/8] M30[2/8]};
\node[lbl, text=dorange] at (axis cs:720.2,1.16653) {M30[1/8]};
\node[lbl, text=dblue] at (axis cs:720.2,1.16577) {H4[-2/8] H1SUP M30SUP};
\node[lbl, text=mag] at (axis cs:720.2,1.16501) {M30[-1/8]};
\node[lbl, text=mvr] at (axis cs:720.2,1.16425) {H1[-1/8] M30[-2/8]};
\coordinate (R0) at (axis cs:934.95,1.19019);
\coordinate (R1) at (axis cs:934.95,1.17340);
\coordinate (R2) at (axis cs:934.95,1.17264);
\coordinate (R3) at (axis cs:934.95,1.17188);
\coordinate (R4) at (axis cs:934.95,1.17111);
\coordinate (R5) at (axis cs:934.95,1.17035);
\coordinate (R6) at (axis cs:934.95,1.16959);
\coordinate (R7) at (axis cs:934.95,1.16882);
\coordinate (R8) at (axis cs:934.95,1.16806);
\coordinate (R9) at (axis cs:934.95,1.16730);
\coordinate (R10) at (axis cs:934.95,1.16653);
\coordinate (R11) at (axis cs:934.95,1.16577);
\coordinate (R12) at (axis cs:934.95,1.16501);
\coordinate (R13) at (axis cs:934.95,1.16425);
\end{axis}
\node[pbox, fill=red] at ([xshift=1.5pt,yshift=-2.5pt]R0) {1.19019};
\node[pbox, fill=mvr] at ([xshift=1.5pt,yshift=-2.5pt]R1) {1.17340};
\node[pbox, fill=mag] at ([xshift=1.5pt,yshift=-2.5pt]R2) {1.17264};
\node[pbox, fill=dblue] at ([xshift=1.5pt,yshift=-2.5pt]R3) {1.17188};
\node[pbox, fill=dorange] at ([xshift=1.5pt,yshift=-2.5pt]R4) {1.17111};
\node[pbox, fill=ored] at ([xshift=1.5pt,yshift=-2.5pt]R5) {1.17035};
\node[pbox, fill=dolive] at ([xshift=1.5pt,yshift=-2.5pt]R6) {1.16959};
\node[pbox, fill=dblue] at ([xshift=1.5pt,yshift=-2.5pt]R7) {1.16882};
\node[pbox, fill=dolive] at ([xshift=1.5pt,yshift=-2.5pt]R8) {1.16806};
\node[pbox, fill=ored] at ([xshift=1.5pt,yshift=-2.5pt]R9) {1.16730};
\node[pbox, fill=dorange] at ([xshift=1.5pt,yshift=-2.5pt]R10) {1.16653};
\node[pbox, fill=dblue] at ([xshift=1.5pt,yshift=-2.5pt]R11) {1.16577};
\node[pbox, fill=mag] at ([xshift=1.5pt,yshift=-2.5pt]R12) {1.16501};
\node[pbox, fill=mvr] at ([xshift=1.5pt,yshift=-2.5pt]R13) {1.16425};
% title
\fill[black] (4.8pt,988.6pt) -- (8.8pt,988.6pt) -- (6.8pt,985.6pt) -- cycle;
\node[anchor=base west, inner sep=0pt, font=\fontsize{9}{10}\selectfont] at (16.85pt,983.05pt) {EURUSD,M30\ \ 1.16798 1.16931 1.16778 1.16913};
% chart shift marker
\fill[gray!55] (1492pt,998pt) -- (1501pt,998pt) -- (1496.5pt,994pt) -- cycle;
% mouse cursor
\filldraw[fill=white, draw=gray!60!black, line width=0.4pt, shift={(1015pt,930.5pt)}] (0pt,0pt) -- (0pt,-17.6pt) -- (4.4pt,-13.2pt) -- (7.7pt,-20.9pt) -- (9.9pt,-19.8pt) -- (6.6pt,-12.1pt) -- (12.1pt,-12.1pt) -- cycle;
\end{tikzpicture}
\end{document}
